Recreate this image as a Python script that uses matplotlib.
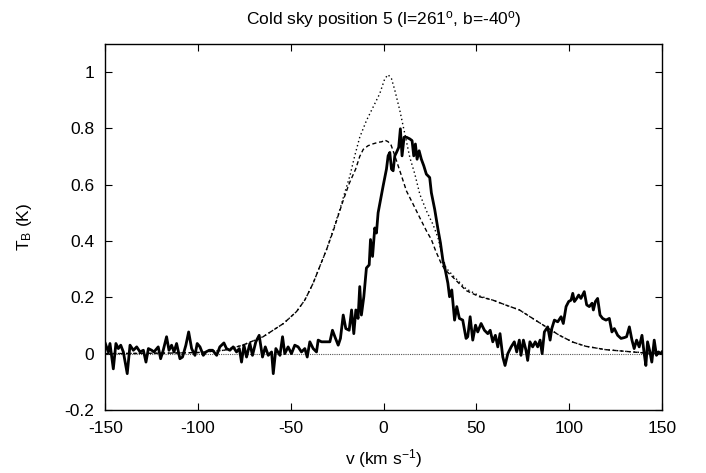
import matplotlib
matplotlib.use("Agg")
import matplotlib.pyplot as plt

plt.rcParams['font.family'] = ['Liberation Sans', 'DejaVu Sans']
plt.rcParams['mathtext.fontset'] = 'custom'
plt.rcParams['mathtext.rm'] = 'Liberation Sans'
plt.rcParams['mathtext.it'] = 'Liberation Sans'

# observed spectrum (thick solid line)
v_obs = [-150.0, -148.4, -147.5, -145.7, -144.3, -143.0, -141.7, -140.3, -138.2, -136.7,
         -134.9, -133.1, -131.3, -129.5, -128.1, -126.8, -125.0, -123.8, -121.5, -120.2,
         -118.8, -117.0, -115.7, -114.3, -113.0, -111.6, -109.8, -108.4, -106.6, -105.1,
         -103.5, -101.7, -100.5, -99.0, -97.2, -95.8, -94.0, -92.2, -90.0, -88.3,
         -86.1, -84.7, -82.9, -81.1, -79.3, -77.8, -76.6, -75.3, -73.9, -72.1,
         -70.7, -68.9, -67.1, -65.3, -63.8, -62.2, -60.4, -59.5, -58.1, -55.9,
         -54.5, -53.3, -51.5, -49.7, -47.9, -46.1, -44.3, -42.5, -41.2, -39.8,
         -38.0, -36.2, -35.3, -33.5, -30.8, -29.0, -27.6, -26.3, -24.5, -23.3,
         -21.8, -20.4, -18.6, -17.3, -16.1, -15.0, -13.8, -12.9, -12.0, -10.7,
         -9.3, -7.8, -7.1, -6.0, -4.8, -3.9, -3.0, -0.3, 1.5, 2.4,
         3.3, 4.2, 5.1, 6.0, 6.9, 8.1, 9.0, 9.9, 11.0, 12.3,
         14.1, 15.3, 16.2, 17.1, 18.0, 19.1, 20.3, 21.6, 23.0, 24.8,
         25.7, 27.5, 29.3, 30.6, 32.0, 32.8, 34.6, 35.5, 36.7, 38.2,
         39.4, 40.8, 42.6, 44.4, 45.3, 46.6, 48.0, 49.5, 50.7, 52.5,
         54.3, 56.1, 57.4, 58.8, 60.2, 61.5, 62.7, 64.2, 65.4, 66.9,
         68.7, 70.4, 71.7, 73.1, 74.0, 75.3, 76.7, 77.6, 78.8, 80.3,
         81.7, 83.0, 84.3, 85.4, 86.6, 88.4, 89.7, 90.6, 92.0, 93.8,
         95.6, 96.8, 98.3, 99.7, 101.0, 101.9, 102.8, 104.0, 105.1, 106.3,
         108.1, 109.4, 110.8, 112.3, 113.0, 114.1, 115.3, 116.6, 118.0, 119.8,
         121.6, 123.0, 124.3, 126.1, 127.9, 129.7, 130.9, 132.4, 133.8, 135.0,
         136.3, 137.7, 139.2, 140.4, 141.3, 142.2, 143.5, 144.5, 145.8, 147.0,
         148.1, 149.4, 150.0]
t_obs = [0.036, 0.006, 0.036, -0.054, 0.036, 0.018, 0.030, 0.006, -0.071, 0.030,
         0.012, 0.024, 0.006, 0.012, -0.030, 0.018, 0.012, 0.006, 0.024, -0.018,
         0.012, 0.060, 0.012, 0.030, 0.006, 0.036, -0.018, -0.012, 0.030, 0.077,
         0.018, -0.006, 0.036, 0.024, -0.006, 0.006, 0.012, 0.012, -0.006, 0.024,
         0.038, 0.018, 0.012, 0.024, 0.006, 0.018, -0.030, 0.030, -0.012, 0.036,
         -0.006, 0.042, 0.065, -0.012, 0.024, -0.006, 0.006, -0.071, 0.018, -0.006,
         0.060, 0.000, 0.024, 0.000, 0.030, 0.024, 0.006, 0.018, -0.012, 0.042,
         0.018, 0.006, 0.048, 0.042, 0.042, 0.042, 0.083, 0.060, 0.030, 0.054,
         0.137, 0.089, 0.083, 0.155, 0.071, 0.155, 0.125, 0.238, 0.137, 0.202,
         0.304, 0.315, 0.405, 0.345, 0.446, 0.428, 0.500, 0.595, 0.655, 0.702,
         0.714, 0.655, 0.649, 0.702, 0.714, 0.732, 0.798, 0.702, 0.768, 0.768,
         0.762, 0.756, 0.702, 0.744, 0.690, 0.720, 0.690, 0.667, 0.637, 0.625,
         0.571, 0.512, 0.440, 0.393, 0.327, 0.310, 0.250, 0.202, 0.226, 0.119,
         0.167, 0.125, 0.119, 0.054, 0.060, 0.131, 0.048, 0.101, 0.077, 0.107,
         0.083, 0.071, 0.083, 0.042, 0.065, 0.024, 0.071, -0.012, -0.042, 0.000,
         0.024, 0.042, 0.006, 0.048, -0.006, 0.048, 0.012, -0.024, 0.042, 0.024,
         0.042, 0.024, 0.048, 0.000, 0.077, 0.095, 0.048, 0.089, 0.119, 0.113,
         0.131, 0.107, 0.167, 0.185, 0.190, 0.214, 0.185, 0.196, 0.208, 0.196,
         0.220, 0.173, 0.167, 0.179, 0.155, 0.185, 0.196, 0.137, 0.125, 0.119,
         0.125, 0.077, 0.089, 0.065, 0.054, 0.057, 0.060, 0.095, 0.048, 0.018,
         0.048, 0.024, 0.065, 0.000, -0.042, 0.042, 0.006, -0.030, 0.048, -0.006,
         0.006, 0.000, 0.006]

# fine dotted profile (higher peak)
v_dot = [-150, -130, -115, -100, -86, -76, -65, -54, -47, -42.5, -38, -34.4, -30.8,
         -27.2, -23.6, -21, -18.2, -15.6, -12.9, -9.3, -5.7, -2.1, 0.6, 2.4, 4.2,
         6.0, 8.7, 11.4, 14.1, 16.8, 19.5, 23.1, 26.6, 29.3, 31.5, 33.5, 37.2, 44.4,
         51.6, 58.8, 66, 73.2, 80.3, 87.5, 94.7, 101.9, 109, 119.8, 130.6, 141.3, 150]
t_dot = [0.0, 0.001, 0.002, 0.004, 0.012, 0.030, 0.060, 0.107, 0.149, 0.190, 0.250,
         0.310, 0.369, 0.440, 0.512, 0.571, 0.631, 0.702, 0.768, 0.827, 0.875, 0.923,
         0.976, 0.990, 0.976, 0.935, 0.863, 0.780, 0.696, 0.637, 0.565, 0.506,
         0.458, 0.411, 0.35, 0.305, 0.278, 0.23, 0.205, 0.19, 0.172, 0.155, 0.125,
         0.095, 0.065, 0.041, 0.026, 0.014, 0.008, 0.003, 0.001]

# dashed profile (flat top)
v_dash = [-150, -130, -115, -100, -86, -76, -65, -54, -47, -42.5, -38, -34.4, -30.8,
          -27.2, -24.5, -21.5, -18.5, -15.1, -12.9, -11, -8.4, -6, -3, -1, 0.6,
          2.4, 4, 5.1, 8.7, 12.3, 15.9, 19.5, 23.1, 25.7, 28, 31, 33, 37.2, 44.4,
          51.6, 58.8, 66, 73.2, 80.3, 87.5, 94.7, 101.9, 109, 119.8, 130.6, 141.3, 150]
t_dash = [0.0, 0.001, 0.002, 0.004, 0.012, 0.030, 0.060, 0.107, 0.149, 0.190, 0.250,
          0.310, 0.369, 0.435, 0.49, 0.55, 0.605, 0.655, 0.70, 0.725, 0.738, 0.744,
          0.75, 0.752, 0.758, 0.752, 0.74, 0.72, 0.649, 0.577, 0.53, 0.482, 0.435,
          0.405, 0.365, 0.32, 0.298, 0.272, 0.224, 0.202, 0.19, 0.172, 0.155, 0.125,
          0.095, 0.065, 0.041, 0.026, 0.014, 0.008, 0.002, 0.001]

x_ticks = [-150, -100, -50, 0, 50, 100, 150]
y_ticks = [-0.2, 0, 0.2, 0.4, 0.6, 0.8, 1]
y_tick_labels = ['-0.2', '0', '0.2', '0.4', '0.6', '0.8', '1']

fig = plt.figure(figsize=(7.06, 4.73), dpi=100)
ax = fig.add_axes([0.1492, 0.1332, 0.7885, 0.7744])

ax.axhline(0, color='#555555', lw=0.8, ls=(0, (1, 1)))
ax.plot(v_dot, t_dot, color='black', lw=1.0, ls=(0, (1, 2)))
ax.plot(v_dash, t_dash, color='black', lw=1.0, ls=(0, (3, 2)))
ax.plot(v_obs, t_obs, color='black', lw=2.0)

ax.set_xlim(-150, 150)
ax.set_ylim(-0.2, 1.1)
ax.set_xticks(x_ticks)
ax.set_xticklabels([str(t) for t in x_ticks])
ax.set_yticks(y_ticks)
ax.set_yticklabels(y_tick_labels)
ax.tick_params(direction='in', length=5, width=0.8, top=True, right=True,
               labelsize=12.5, pad=8)
for s in ax.spines.values():
    s.set_linewidth(1.0)

ax.set_xlabel('v (km s$^{-1}$)', fontsize=12.5, labelpad=8)
ax.set_ylabel('T$_{\\rm B}$ (K)', fontsize=12.5, labelpad=22)
ax.set_title('Cold sky position 5 (l=261$^{\\rm o}$, b=-40$^{\\rm o}$)',
             fontsize=12.5, pad=14)

fig.savefig('out.png', dpi=100)
